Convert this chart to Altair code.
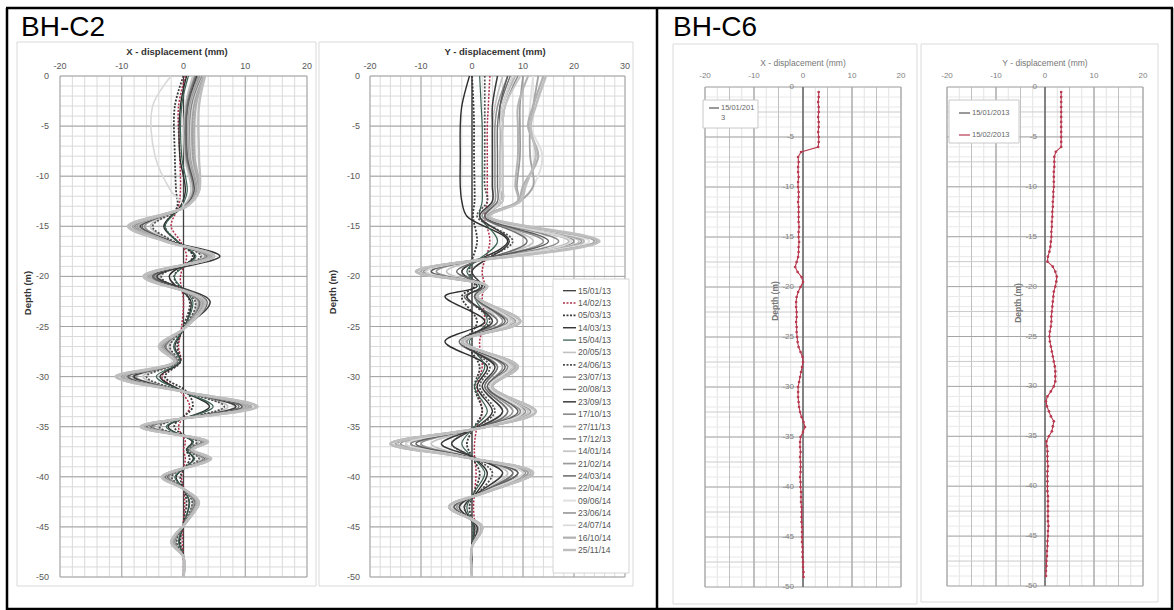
import altair as alt
import pandas as pd

W, H = 1174, 610
FONT = "Liberation Sans"

# ---------------- BH-C2 data ----------------
DATES_C2 = ["15/01/13", "14/02/13", "05/03/13", "14/03/13", "15/04/13", "20/05/13",
            "24/06/13", "23/07/13", "20/08/13", "23/09/13", "17/10/13", "27/11/13",
            "17/12/13", "14/01/14", "21/02/14", "24/03/14", "22/04/14", "09/06/14",
            "23/06/14", "24/07/14", "16/10/14", "25/11/14"]

ZERO_DEPTH = [0, -10, -20, -30, -40, -50]
ZERO_VALUE = [0, 0, 0, 0, 0, 0]

X_DEPTH = [0, -3, -8, -11.5, -13, -15, -16.5, -18, -20, -22.5, -25, -27, -28.5, -30,
           -31.5, -33, -35, -36.5, -37.3, -38.2, -40, -41.2, -42.5, -44.5, -46.5, -48, -50]

X_S02 = [0.3, -0.8, -0.6, -0.5, -0.8, -2, -0.5, 0.5, -0.5, 0, -0.3, -0.8, -0.5, -3.5, -0.5, 1.0, -0.8, 0.3, 0, 0.3, -0.3, 0, 0.2, 0, -0.2, 0, 0]
X_S03 = [0, -1.4, -1.4, -1.2, -1.0, -3, -1, 1.5, -1.5, 1.0, 0, -1, -0.5, -3, 0.5, 1.5, -1.5, 1.5, 0.5, 1.0, -0.5, 0, 0.5, 0, -0.5, 0, 0]
X_S04 = [0.5, -0.5, -0.6, 0.3, -0.5, -3.2, -1, 1.8, -2.3, 1.2, 0.2, -1.4, -0.5, -3.8, 0, 4.2, -2.5, 1.4, 0.5, 1.6, -1.2, 0, 0.9, 0.2, -0.7, 0, 0]
X_S05 = [0.8, -0.3, -0.3, 0.6, -0.3, -3.0, -1.0, 2.0, -1.5, 1.5, 0.2, -1.6, -0.6, -4.4, 0, 4.8, -2.8, 1.6, 0.6, 1.8, -1.4, 0, 1.0, 0.2, -0.8, 0, 0]
X_S06 = [1.5, 0.3, 0.2, 1.2, 0, -5.4, -1.8, 3.0, -3.9, 2.1, 0.3, -2.4, -0.9, -6.6, 0, 7.2, -4.2, 2.4, 0.9, 2.7, -2.1, 0, 1.5, 0.3, -1.2, 0, 0]
X_S07 = [2.5, 1.6, 1.6, 2.0, 0.3, -5.0, -1.6, 2.8, -3.6, 1.9, 0.3, -2.2, -0.8, -6.0, 0, 6.6, -3.9, 2.2, 0.8, 2.5, -1.9, 0, 1.4, 0.3, -1.1, 0, 0]
X_S08 = [1.8, 0.5, 0.4, 1.5, 0.2, -6.3, -2.1, 3.5, -4.5, 2.4, 0.3, -2.8, -1.0, -7.7, 0, 8.4, -4.9, 2.8, 1.0, 3.1, -2.4, 0, 1.7, 0.3, -1.4, 0, 0]
X_S09 = [2.0, 0.6, 0.5, 1.7, 0.3, -6.7, -2.2, 3.8, -4.8, 2.6, 0.4, -3.0, -1.1, -8.2, 0, 9.0, -5.2, 3.0, 1.1, 3.4, -2.6, 0, 1.9, 0.4, -1.5, 0, 0]
X_S10 = [2.2, 0.8, 0.7, 1.8, 0.3, -7.0, -2.0, 5.9, -4.3, 4.3, 0.4, -3.2, -1.2, -8.0, 0, 8.5, -5.5, 3.5, 1.2, 3.6, -2.8, 0, 2.0, 0.4, -1.6, 0, 0]
X_S11 = [2.4, 0.9, 0.8, 1.9, 0.4, -7.2, -2.4, 4.0, -5.2, 2.8, 0.4, -3.2, -1.2, -8.8, 0, 9.6, -5.6, 3.2, 1.2, 3.6, -2.8, 0, 2.0, 0.4, -1.6, 0, 0]
X_S12 = [2.6, 1.0, 0.9, 2.0, 0.4, -7.4, -2.5, 4.1, -5.3, 2.9, 0.4, -3.3, -1.2, -9.0, 0, 9.8, -5.7, 3.3, 1.2, 3.7, -2.9, 0, 2.1, 0.4, -1.6, 0, 0]
X_S13 = [2.7, 1.1, 1.0, 2.1, 0.5, -7.6, -2.6, 4.3, -5.5, 3.0, 0.4, -3.4, -1.3, -9.3, 0, 10.2, -6.0, 3.4, 1.3, 3.8, -3.0, 0, 2.1, 0.4, -1.7, 0, 0]
X_S14 = [2.9, 1.2, 1.1, 2.2, 0.5, -7.8, -2.6, 4.4, -5.6, 3.0, 0.4, -3.5, -1.3, -9.5, 0, 10.4, -6.1, 3.5, 1.3, 3.9, -3.0, 0, 2.2, 0.4, -1.7, 0, 0]
X_S15 = [3.0, 1.3, 1.2, 2.2, 0.5, -7.9, -2.6, 4.4, -5.7, 3.1, 0.4, -3.5, -1.3, -9.7, 0, 10.6, -6.2, 3.5, 1.3, 4.0, -3.1, 0, 2.2, 0.4, -1.8, 0, 0]
X_S16 = [3.1, 1.4, 1.3, 2.3, 0.5, -8.0, -2.7, 5.0, -5.0, 3.8, 0.5, -3.6, -1.4, -9.0, 0, 9.5, -6.0, 3.6, 1.4, 4.0, -3.0, 0, 2.3, 0.5, -1.8, 0, 0]
X_S17 = [3.2, 1.5, 1.3, 2.3, 0.5, -8.1, -2.7, 4.5, -5.9, 3.2, 0.5, -3.6, -1.4, -9.9, 0, 10.8, -6.3, 3.6, 1.4, 4.1, -3.2, 0, 2.3, 0.5, -1.8, 0, 0]
X_S18 = [3.3, 1.6, 1.4, 2.4, 0.5, -8.4, -2.8, 4.7, -6.0, 3.3, 0.5, -3.7, -1.4, -10.2, 0, 11.2, -6.5, 3.7, 1.4, 4.2, -3.3, 0, 2.3, 0.5, -1.9, 0, 0]
X_S19 = [3.3, 1.7, 1.5, 2.4, 0.5, -8.3, -2.8, 4.6, -6.0, 3.2, 0.5, -3.7, -1.4, -10.1, 0, 11.0, -6.4, 3.7, 1.4, 4.1, -3.2, 0, 2.3, 0.5, -1.8, 0, 0]
X_S20 = [-2.0, -5.0, -4.6, -2.0, 0, -8.6, -2.9, 4.8, -6.2, 3.4, 0.5, -3.8, -1.4, -10.6, 0, 11.5, -6.7, 3.8, 1.4, 4.3, -3.4, 0, 2.4, 0.5, -1.9, 0, 0]
X_S21 = [3.4, 2.0, 1.8, 2.5, 0.5, -8.8, -2.9, 4.9, -6.4, 3.4, 0.5, -3.9, -1.5, -10.8, 0, 11.8, -6.9, 3.9, 1.5, 4.4, -3.4, 0, 2.5, 0.5, -2.0, 0, 0]
X_S22 = [3.5, 2.5, 2.5, 2.5, 0.5, -9.0, -3.0, 5.0, -6.5, 3.5, 0.5, -4.0, -1.5, -11.0, 0, 12.0, -7.0, 4.0, 1.5, 4.5, -3.5, 0, 2.5, 0.5, -2.0, 0, 0]

Y_DEPTH = [0, -3, -5, -8, -11, -12.5, -14, -16.5, -19.5, -21, -22, -24.5, -26.5, -29, -31,
           -33.5, -35, -36.7, -38, -39.6, -41.5, -43, -45, -47, -50]

Y_S02 = [3.5, 3.2, 3.0, 3.0, 3.0, 3.0, 2.5, 3.5, 2.0, 2.5, 2.0, 2.5, 1.5, 2.0, 1.0, 2.0, 1.0, 0.5, 0.5, 0.8, 0.5, 0.3, 0.5, 0, 0]
Y_S03 = [0, 0.3, 0.4, 0.4, 0.5, 0.5, 0.2, 1.0, -0.5, 0.5, -2.0, 1.0, -1.0, 1.5, 0.5, 2.0, 0.5, -1.0, 0, 1.5, 0.5, -0.5, 0.3, 0, 0]
Y_S04 = [-0.5, -2.0, -2.3, -2.3, -2.3, -2.0, -1.0, 7.0, -2.0, 1.0, -5.3, 2.5, -5.3, 3.0, 1.0, 4.0, 1.0, -4.0, 0, 3.0, 1.0, -1.5, 0.5, 0, 0]
Y_S05 = [1.5, 1.8, 2.0, 2.0, 2.0, 2.0, 1.5, 5.0, -1.0, 1.5, 0.5, 3.0, -0.5, 2.5, 0.5, 3.0, 0.5, -2.0, 0, 2.5, 0.5, -1.0, 0.3, 0, 0]
Y_S06 = [6, 4.5, 4.0, 4.0, 4.0, 4.0, 2.0, 12, -5, 2.5, 0.5, 5.0, -1.0, 5.0, 2.5, 7.0, 2.0, -8, -1, 7.0, 2.0, -2.5, 1.0, 0, 0]
Y_S07 = [2.5, 2.5, 2.5, 2.5, 2.5, 3.0, 1.0, 8.0, -2.0, 2.0, -1.0, 3.5, -1.5, 3.5, 1.5, 4.5, 1.0, -4.0, 0, 4.0, 1.5, -1.5, 0.5, 0, 0]
Y_S08 = [7, 5.0, 4.5, 4.5, 4.5, 4.5, 2.0, 14, -7, 3.0, 0.5, 6.0, -1.0, 6.0, 3.0, 8.0, 2.0, -10, -1, 8.0, 2.0, -3.0, 1.2, 0, 0]
Y_S09 = [7.5, 5.5, 5.0, 5.0, 5.0, 5.0, 2.5, 10.8, -3.0, 3.0, -1.5, 5.0, -2.5, 5.0, 2.5, 7.0, 2.0, -12, -1, 8.0, 2.0, -3.5, 1.5, 0, 0]
Y_S10 = [5, 4.0, 4.0, 4.0, 4.0, 4.0, 1.5, 7.3, 0, 2.0, -1.0, 4.0, -2.0, 4.5, 2.0, 6.0, 1.5, -6, 0, 6.0, 1.5, -2.5, 1.0, 0, 0]
Y_S11 = [8, 6.0, 5.5, 5.5, 5.5, 5.5, 3.0, 17, -8, 3.0, 1.0, 7.0, -1.5, 7.0, 3.5, 9.5, 2.5, -12, -1.5, 9.0, 2.5, -3.5, 1.5, 0, 0]
Y_S12 = [8.5, 6.0, 5.5, 5.5, 5.5, 5.5, 3.0, 19, -9, 3.0, 1.0, 7.5, -1.5, 7.5, 3.5, 10, 2.5, -13, -1.5, 10, 2.5, -4.0, 1.5, 0, 0]
Y_S13 = [9, 6.5, 6.0, 6.0, 6.0, 6.0, 3.0, 20, -9.5, 3.0, 1.0, 8.0, -1.5, 8.0, 3.5, 10.5, 2.5, -14, -1.5, 10.5, 2.5, -4.0, 1.5, 0, 0]
Y_S14 = [9.5, 6.5, 6.0, 6.0, 6.0, 6.0, 3.0, 21, -10, 3.0, 1.0, 8.0, -1.5, 8.0, 3.5, 11, 2.5, -14.5, -1.5, 11, 2.5, -4.0, 1.8, 0, 0]
Y_S15 = [10, 9.4, 9.4, 9.4, 8.8, 9.0, 3.0, 21.5, -10, 3.0, 1.0, 8.5, -1.5, 8.5, 4.0, 11.5, 3.0, -15, -1.5, 11, 3.0, -4.2, 1.8, 0, 0]
Y_S16 = [7, 5.5, 5.5, 5.5, 5.5, 5.5, 2.5, 15, -8, 2.5, 0.5, 6.5, -2.0, 6.5, 3.0, 9.0, 2.0, -11, -1, 9.0, 2.0, -3.5, 1.5, 0, 0]
Y_S17 = [11, 9.0, 9.0, 9.0, 8.5, 9.0, 3.0, 22, -10.5, 3.0, 1.0, 9.0, -2.0, 8.5, 4.0, 12, 3.0, -15.5, -2.0, 11.5, 3.0, -4.3, 2.0, 0, 0]
Y_S18 = [12, 11.4, 11.4, 13.8, 12, 9.4, 3.0, 23, -10.5, 3.0, 1.0, 9.0, -2.0, 9.0, 4.0, 12, 3.0, -15.5, -2.0, 12, 3.0, -4.5, 2.0, 0, 0]
Y_S19 = [13, 12, 11.4, 11.4, 12, 9.4, 3.0, 24, -10.8, 3.0, 1.0, 9.5, -2.0, 9.0, 4.0, 12.5, 3.0, -16, -2.0, 12, 3.0, -4.5, 2.0, 0, 0]
Y_S20 = [8, 6.0, 5.5, 5.5, 5.5, 5.5, 3.0, 19.5, -9, 3.0, 1.0, 7.5, -1.5, 7.5, 3.5, 10, 2.5, -13, -1.5, 10, 2.5, -4.0, 1.5, 0, 0]
Y_S21 = [14, 12, 11, 13, 10, 9.0, 3.0, 24.5, -11, 3.0, 1.0, 9.5, -2.0, 9.0, 4.0, 12.5, 3.0, -16, -2.0, 12, 3.0, -4.5, 2.0, 0, 0]
Y_S22 = [14.5, 12.5, 11.5, 12.5, 10.5, 9.5, 3.5, 25, -11, 3.0, 1.0, 9.5, -2.0, 9.0, 4.0, 12.5, 3.0, -16, -2.0, 12, 3.0, -4.5, 2.0, 0, 0]

X_SERIES_C2 = [X_S02, X_S03, X_S04, X_S05, X_S06, X_S07, X_S08, X_S09, X_S10, X_S11, X_S12,
               X_S13, X_S14, X_S15, X_S16, X_S17, X_S18, X_S19, X_S20, X_S21, X_S22]
Y_SERIES_C2 = [Y_S02, Y_S03, Y_S04, Y_S05, Y_S06, Y_S07, Y_S08, Y_S09, Y_S10, Y_S11, Y_S12,
               Y_S13, Y_S14, Y_S15, Y_S16, Y_S17, Y_S18, Y_S19, Y_S20, Y_S21, Y_S22]

COLORS_C2 = ["#3a3a3a", "#b0304a", "#3a3a3a", "#2e2e2e", "#3d6354", "#c2c2c2", "#505050",
             "#959595", "#6e6e6e", "#3a3a3a", "#8a8a8a", "#b8b8b8", "#8f8f8f", "#c6c6c6",
             "#9a9a9a", "#5e5e5e", "#b3b3b3", "#e0e0e0", "#a2a2a2", "#d8d8d8", "#b0b0b0", "#bebebe"]
WIDTHS_C2 = [1.2, 1.5, 1.8, 1.4, 1.2, 1.6, 1.7, 1.6, 1.4, 1.5, 1.6, 1.8, 1.6, 1.8, 1.7, 1.4,
             2.0, 2.0, 1.8, 1.6, 2.2, 2.4]
DASHED_C2 = [False, True, True, False, False, False, True, False, False, False, False, False,
             False, False, False, False, False, False, False, False, False, False]

# ---------------- BH-C6 data (0.5 m readings from -0.5 m) ----------------
DATES_C6 = ["15/01/2013", "15/02/2013"]
C6_X = [3.2, 3.2, 3.1, 3.2, 3.2, 3.1, 3.2, 3.2, 3.1, 3.2, 3.2, 3.1,
        -0.4, -1.0, -0.9, -1.0, -1.0, -0.9, -1.0, -1.0, -0.9, -0.9, -1.0, -0.9,
        -0.9, -0.9, -0.9, -0.8, -0.9, -0.9, -0.8, -0.9, -0.9, -1.0, -1.3, -1.6,
        -1.1, -0.3, 0.0, -0.5, -1.0, -1.3, -1.4, -1.4, -1.3, -1.3, -1.4, -1.3,
        -1.3, -1.2, -1.1, -0.9, -0.5, -0.1, 0.0, -0.2, -0.4, -0.6, -0.8, -1.0,
        -1.0, -1.0, -0.9, -0.8, -0.6, -0.3, 0.1, 0.4, 0.0, -0.5, -0.6, -0.6,
        -0.5, -0.6, -0.5, -0.5, -0.5, -0.6, -0.5, -0.5, -0.4, -0.4, -0.4, -0.3,
        -0.3, -0.3, -0.3, -0.2, -0.2, -0.2, -0.2, -0.1, -0.1, -0.1, 0.0, 0.0, 0.1, 0.1]
C6_Y = [3.3, 3.3, 3.3, 3.3, 3.3, 3.3, 3.3, 3.3, 3.3, 3.3, 3.3, 3.3,
        2.2, 1.9, 1.9, 1.9, 1.8, 1.8, 1.8, 1.8,
        1.7, 1.7, 1.6, 1.6, 1.5, 1.5, 1.4,
        1.4, 1.3, 1.3, 1.2, 1.1,
        0.9, 0.6, 0.5, 1.6, 2.1, 2.4, 2.3, 2.1, 1.8, 1.7, 1.6, 1.5, 1.4, 1.3, 1.3,
        1.2, 1.0, 0.9, 1.0, 1.2, 1.4, 1.6, 1.8, 2.0, 2.1, 2.1, 2.1, 1.8, 1.2, 0.5,
        0.2, 0.4, 0.8, 1.2, 1.8, 1.6, 1.4, 0.8, 0.3, 0.4, 0.5,
        0.5, 0.5, 0.6, 0.5, 0.5, 0.5, 0.5,
        0.5, 0.6, 0.6, 0.6, 0.6, 0.6, 0.6, 0.7, 0.6, 0.6,
        0.5, 0.5, 0.4, 0.4, 0.3, 0.3, 0.2, 0.2]
RED_C6 = "#b8384e"

DEPTH_TICKS = [0, -5, -10, -15, -20, -25, -30, -35, -40, -45, -50]
X_TICKS_20 = [-20, -10, 0, 10, 20]
X_TICKS_30 = [-20, -10, 0, 10, 20, 30]

# ---------------- helpers ----------------
def panel_scales(xmin, xmax, px0, px1, py0, py1):
    kx = (px1 - px0) / (xmax - xmin)
    xd = [xmin - px0 / kx, xmax + (W - px1) / kx]
    ky = (py1 - py0) / 50.0
    yd = [-50 - (H - py1) / ky, 0 + py0 / ky]
    return dict(xmin=xmin, xmax=xmax, xd=xd, yd=yd)

PA = panel_scales(-20, 20, 60, 307, 76, 577)
PB = panel_scales(-20, 30, 370, 625, 76, 577)
PC = panel_scales(-20, 20, 705, 901, 87, 587)
PD = panel_scales(-20, 20, 947, 1143, 87, 586)


def ex(P, f):
    return alt.X(f"{f}:Q", scale=alt.Scale(domain=P["xd"], nice=False, zero=False), axis=None)


def ey(P, f):
    return alt.Y(f"{f}:Q", scale=alt.Scale(domain=P["yd"], nice=False, zero=False), axis=None)


def vgrid(P, vals, color, width=1.0, dash=None):
    n = len(vals)
    df = pd.DataFrame({"v": vals, "a": [0] * n, "b": [-50] * n})
    kw = dict(color=color, strokeWidth=width)
    if dash:
        kw["strokeDash"] = dash
    return alt.Chart(df).mark_rule(**kw).encode(x=ex(P, "v"), y=ey(P, "a"), y2="b")


def hgrid(P, vals, color, width=1.0, dash=None):
    n = len(vals)
    df = pd.DataFrame({"h": vals, "a": [P["xmin"]] * n, "b": [P["xmax"]] * n})
    kw = dict(color=color, strokeWidth=width)
    if dash:
        kw["strokeDash"] = dash
    return alt.Chart(df).mark_rule(**kw).encode(x=ex(P, "a"), x2="b", y=ey(P, "h"))


def xlabels(P, ticks, ypx, size, color):
    df = pd.DataFrame({"v": ticks, "t": [str(t) for t in ticks]})
    return alt.Chart(df).mark_text(font=FONT, fontSize=size, color=color, align="center",
                                   baseline="middle").encode(x=ex(P, "v"), y=alt.value(ypx), text="t:N")


def ylabels(P, ticks, xpx, size, color):
    df = pd.DataFrame({"h": ticks, "t": [str(t) for t in ticks]})
    return alt.Chart(df).mark_text(font=FONT, fontSize=size, color=color, align="right",
                                   baseline="middle").encode(x=alt.value(xpx), y=ey(P, "h"), text="t:N")


def series(P, depths, vals, color, width, dashed=False, interp="catmull-rom", point=False):
    rows = [{"d": d, "v": v, "i": i} for i, (d, v) in enumerate(zip(depths, vals))]
    kw = dict(color=color, strokeWidth=width, interpolate=interp)
    if dashed:
        kw["strokeDash"] = [2, 1.5]
    if point:
        kw["point"] = alt.OverlayMarkDef(filled=True, size=7, color=color)
    return alt.Chart(pd.DataFrame(rows)).mark_line(**kw).encode(
        x=ex(P, "v"), y=ey(P, "d"), order="i:Q")


ONE = pd.DataFrame({"k": [0]})


def prule(x1, y1, x2, y2, color="#000000", width=1.0):
    return alt.Chart(ONE).mark_rule(color=color, strokeWidth=width).encode(
        x=alt.value(x1), y=alt.value(y1), x2=alt.value(x2), y2=alt.value(y2))


def prect(x1, y1, x2, y2, fill="white", stroke="#d9d9d9", width=1.0):
    return alt.Chart(ONE).mark_rect(fill=fill, stroke=stroke, strokeWidth=width).encode(
        x=alt.value(x1), y=alt.value(y1), x2=alt.value(x2), y2=alt.value(y2))


def ptext(x, y, txt, size=9, color="#333333", weight="normal", align="left", angle=0):
    kw = dict(text=txt, font=FONT, fontSize=size, color=color, fontWeight=weight,
              align=align, baseline="middle")
    if angle:
        kw["angle"] = angle
    return alt.Chart(ONE).mark_text(**kw).encode(x=alt.value(x), y=alt.value(y))


MINOR = "#dadada"
MAJOR = "#a3a3a3"

# ---------------- panel A : BH-C2 X ----------------
layA = [
    vgrid(PA, list(range(-20, 21, 2)), MINOR),
    hgrid(PA, list(range(0, -51, -1)), MINOR),
    vgrid(PA, X_TICKS_20, MAJOR),
    hgrid(PA, DEPTH_TICKS, MAJOR),
    xlabels(PA, X_TICKS_20, 66, 9, "#595959"),
    ylabels(PA, DEPTH_TICKS, 49, 9, "#595959"),
    series(PA, ZERO_DEPTH, ZERO_VALUE, "#404040", 1.3, interp="linear"),
]
for k, vals in enumerate(X_SERIES_C2):
    layA.append(series(PA, X_DEPTH, vals, COLORS_C2[k + 1], WIDTHS_C2[k + 1], DASHED_C2[k + 1]))
panelA = alt.layer(*layA)

# ---------------- panel B : BH-C2 Y ----------------
layB = [
    vgrid(PB, list(range(-20, 31, 2)), MINOR),
    hgrid(PB, list(range(0, -51, -1)), MINOR),
    vgrid(PB, X_TICKS_30, MAJOR),
    hgrid(PB, DEPTH_TICKS, MAJOR),
    xlabels(PB, X_TICKS_30, 66, 9, "#595959"),
    ylabels(PB, DEPTH_TICKS, 360, 9, "#595959"),
    series(PB, ZERO_DEPTH, ZERO_VALUE, "#404040", 1.3, interp="linear"),
]
for k, vals in enumerate(Y_SERIES_C2):
    layB.append(series(PB, Y_DEPTH, vals, COLORS_C2[k + 1], WIDTHS_C2[k + 1], DASHED_C2[k + 1]))
panelB = alt.layer(*layB)

# ---------------- legend for BH-C2 ----------------
leg_top, leg_bot = 290.7, 550.0
kl = (leg_bot - leg_top) / (len(DATES_C2) - 1)
leg_dom = [len(DATES_C2) - 1 + (H - leg_bot) / kl, 0 - leg_top / kl]
leg_y = alt.Y("idx:Q", scale=alt.Scale(domain=leg_dom, nice=False, zero=False), axis=None)
layL = [prect(553, 279, 629, 573, stroke="#d4d4d4")]
for i, dt in enumerate(DATES_C2):
    row = pd.DataFrame({"idx": [i], "t": [dt]})
    kw = dict(color=COLORS_C2[i], strokeWidth=max(WIDTHS_C2[i], 1.3))
    if DASHED_C2[i]:
        kw["strokeDash"] = [2, 1.5]
    layL.append(alt.Chart(row).mark_rule(**kw).encode(x=alt.value(563), x2=alt.value(576), y=leg_y))
    layL.append(alt.Chart(row).mark_text(font=FONT, fontSize=8.5, color="#555555", align="left",
                                         baseline="middle").encode(x=alt.value(578), y=leg_y, text="t:N"))
legendB = alt.layer(*layL)

# ---------------- panels C and D : BH-C6 ----------------
C6_DEPTH_X = [-(i + 1) * 0.5 for i in range(len(C6_X))]
C6_DEPTH_Y = [-(i + 1) * 0.5 for i in range(len(C6_Y))]
X_GRID_C6 = [-20 + 2.5 * i for i in range(17)]
X_MID_C6 = [-20, -15, -10, -5, 0, 5, 10, 15, 20]


def c6_panel(P, vals, depths, lab_x):
    lay = [
        vgrid(P, X_GRID_C6, "#e2e2e2"),
        hgrid(P, list(range(0, -51, -1)), "#e8e8e8"),
        vgrid(P, X_MID_C6, "#c0c0c0"),
        hgrid(P, [-2.5 - 5 * i for i in range(10)], "#cbcbcb"),
        vgrid(P, X_TICKS_20, "#a6a6a6"),
        hgrid(P, DEPTH_TICKS, "#a6a6a6"),
        xlabels(P, X_TICKS_20, 76, 8, "#808080"),
        series(P, ZERO_DEPTH, ZERO_VALUE, "#5a5a5a", 1.2, interp="linear"),
        series(P, depths, vals, RED_C6, 1.1, interp="linear", point=True),
        ylabels(P, DEPTH_TICKS, lab_x, 8, "#808080"),
    ]
    return alt.layer(*lay)


panelC = c6_panel(PC, C6_X, C6_DEPTH_X, 794)
panelD = c6_panel(PD, C6_Y, C6_DEPTH_Y, 1037)

legendC = alt.layer(
    prect(703, 100, 758, 128, stroke="#c8c8c8"),
    prule(709, 108, 719, 108, "#555555", 1.2),
    ptext(721, 108, "15/01/201", 7.5, "#666666"),
    ptext(721, 118, "3", 7.5, "#666666"),
)
legendD = alt.layer(
    prect(949, 100, 1019, 143, stroke="#c8c8c8"),
    prule(959, 113, 970, 113, "#555555", 1.2),
    ptext(972, 113, DATES_C6[0], 7.5, "#666666"),
    prule(959, 135, 970, 135, RED_C6, 1.2),
    ptext(972, 135, DATES_C6[1], 7.5, "#666666"),
)

# ---------------- chart areas, titles and frame ----------------
areas = alt.layer(
    prect(17, 42, 316, 586),
    prect(319, 42, 633, 586),
    prect(673, 44, 917, 604),
    prect(921, 44, 1158, 602),
)
titles = alt.layer(
    ptext(177, 52, "X - displacement (mm)", 9.5, "#333333", "bold", "center"),
    ptext(495, 52, "Y - displacement (mm)", 9.5, "#333333", "bold", "center"),
    ptext(28, 293, "Depth  (m)", 9.5, "#333333", "bold", "center", 270),
    ptext(333, 292, "Depth  (m)", 9.5, "#333333", "bold", "center", 270),
    ptext(803, 63, "X - displacement (mm)", 8.5, "#777777", "normal", "center"),
    ptext(1045, 63, "Y - displacement (mm)", 8.5, "#777777", "normal", "center"),
    ptext(775, 301, "Depth  (m)", 8.5, "#777777", "bold", "center", 270),
    ptext(1018, 303, "Depth  (m)", 8.5, "#777777", "bold", "center", 270),
    ptext(21, 28, "BH-C2", 28, "#000000"),
    ptext(673, 28, "BH-C6", 28, "#000000"),
)
frame = alt.layer(
    prule(6, 8, 1173, 8, "#000000", 2.5),
    prule(7, 8, 7, 610, "#000000", 2.5),
    prule(657, 8, 657, 610, "#000000", 2.5),
    prule(1172, 8, 1172, 610, "#000000", 2.5),
    prule(6, 609, 1173, 609, "#000000", 2.5),
)

chart = alt.layer(
    areas, panelA, panelB, legendB, panelC, legendC, panelD, legendD, titles, frame
).resolve_scale(x="independent", y="independent").properties(
    width=W, height=H, padding=0, background="white",
    autosize=alt.AutoSizeParams(type="none"),
).configure_view(stroke=None)

chart.save("out.html", embed_options={"renderer": "svg", "actions": False})
